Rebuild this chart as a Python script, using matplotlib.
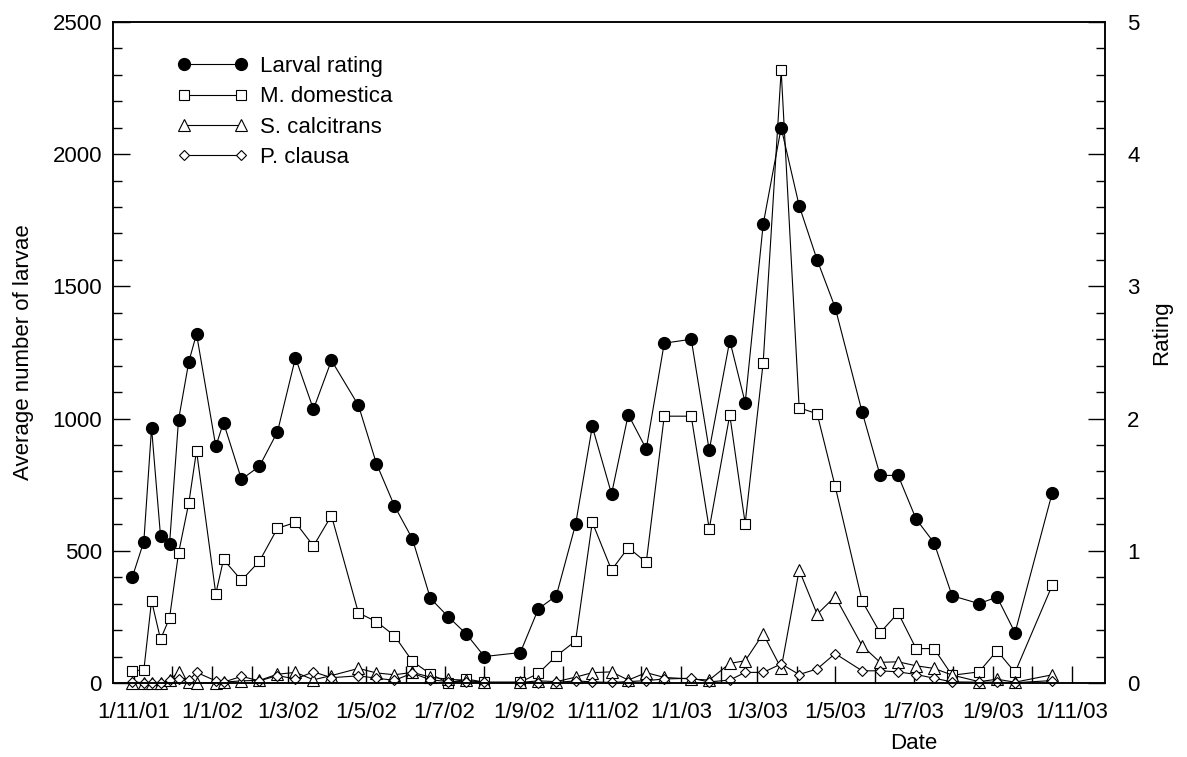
import matplotlib
matplotlib.use("Agg")
import matplotlib.pyplot as plt
import matplotlib.dates as mdates
from matplotlib.ticker import MultipleLocator, FuncFormatter
import pandas as pd

plt.rcParams['font.family'] = ['Liberation Sans', 'DejaVu Sans']

# sampling dates (d/m/y)
dates = pd.to_datetime([
    "2001-10-31", "2001-11-09", "2001-11-15", "2001-11-22", "2001-11-29",
    "2001-12-06", "2001-12-14", "2001-12-20", "2002-01-04", "2002-01-10",
    "2002-01-24", "2002-02-07", "2002-02-21", "2002-03-07", "2002-03-21",
    "2002-04-04", "2002-04-25", "2002-05-09", "2002-05-23", "2002-06-06",
    "2002-06-20", "2002-07-04", "2002-07-18", "2002-08-01", "2002-08-29",
    "2002-09-12", "2002-09-26", "2002-10-11", "2002-10-24", "2002-11-08",
    "2002-11-21", "2002-12-05", "2002-12-19", "2003-01-09", "2003-01-23",
    "2003-02-08", "2003-02-20", "2003-03-06", "2003-03-20", "2003-04-03",
    "2003-04-17", "2003-05-01", "2003-05-22", "2003-06-05", "2003-06-19",
    "2003-07-03", "2003-07-17", "2003-07-31", "2003-08-21", "2003-09-04",
    "2003-09-18", "2003-10-17",
])

rating = [0.80, 1.07, 1.93, 1.11, 1.05, 1.99, 2.43, 2.64, 1.79, 1.97,
          1.54, 1.64, 1.90, 2.46, 2.07, 2.44, 2.10, 1.66, 1.34, 1.09,
          0.64, 0.50, 0.37, 0.20, 0.23, 0.56, 0.66, 1.20, 1.94, 1.43,
          2.03, 1.77, 2.57, 2.60, 1.76, 2.59, 2.12, 3.47, 4.20, 3.61,
          3.20, 2.84, 2.05, 1.57, 1.57, 1.24, 1.06, 0.66, 0.60, 0.65,
          0.38, 1.44]

domestica = [46, 49, 311, 165, 246, 491, 681, 878, 337, 467,
             388, 461, 585, 607, 518, 633, 265, 232, 179, 82,
             34, 0, 15, 3, 3, 36, 102, 159, 608, 427,
             512, 456, 1009, 1009, 583, 1014, 603, 1212, 2317, 1041,
             1018, 744, 310, 190, 265, 130, 130, 29, 42, 122,
             40, 370]

calcitrans = [0, 0, 0, 0, 10, 42, 3, 0, 0, 3,
              8, 10, 33, 40, 12, 28, 55, 38, 31, 40,
              22, 14, 10, 2, 2, 8, 5, 22, 39, 42,
              11, 39, 21, 15, 11, 74, 84, 186, 55, 427,
              260, 327, 141, 78, 80, 65, 55, 30, 5, 14,
              3, 31]

clausa = [5, 0, 0, 0, 12, 14, 10, 40, 8, 3,
          25, 8, 28, 15, 42, 20, 27, 18, 10, 37,
          12, 5, 5, 2, 2, 0, 2, 8, 4, 2,
          5, 9, 15, 18, 4, 11, 40, 40, 72, 32,
          53, 111, 46, 46, 42, 32, 18, 4, 3, 3,
          1, 9]

fig = plt.figure(figsize=(11.87, 7.57), dpi=100)
ax = fig.add_axes([0.0952, 0.0978, 0.8357, 0.8732])
ax2 = ax.twinx()

lw = 0.8
l_dom, = ax.plot(dates, domestica, color='black', lw=lw, marker='s', ms=7.5,
                 mfc='white', mec='black', mew=0.8, clip_on=False, label='M. domestica')
l_cal, = ax.plot(dates, calcitrans, color='black', lw=lw, marker='^', ms=8,
                 mfc='white', mec='black', mew=0.8, clip_on=False, label='S. calcitrans')
l_cla, = ax.plot(dates, clausa, color='black', lw=lw, marker='D', ms=5.2,
                 mfc='white', mec='black', mew=0.8, clip_on=False, label='P. clausa')
l_rat, = ax2.plot(dates, rating, color='black', lw=lw, marker='o', ms=8.5,
                  mfc='black', mec='black', clip_on=False, label='Larval rating')

ax.set_xlim(pd.Timestamp("2001-10-16"), pd.Timestamp("2003-11-27"))
ax.set_ylim(0, 2500)
ax2.set_ylim(0, 5)

ax.xaxis.set_major_locator(mdates.MonthLocator(bymonth=[1, 3, 5, 7, 9, 11]))
ax.xaxis.set_minor_locator(mdates.MonthLocator(bymonth=[2, 4, 6, 8, 10, 12]))


def date_fmt(x, pos):
    d = mdates.num2date(x)
    return f"{d.day}/{d.month}/{d:%y}"


ax.xaxis.set_major_formatter(FuncFormatter(date_fmt))

ax.yaxis.set_major_locator(MultipleLocator(500))
ax.yaxis.set_minor_locator(MultipleLocator(100))
ax2.yaxis.set_major_locator(MultipleLocator(1))
ax2.yaxis.set_minor_locator(MultipleLocator(0.2))

fs = 16
ax.tick_params(axis='x', which='both', direction='in', length=12, width=1,
               top=False, labelsize=fs, pad=14)
ax.tick_params(axis='y', which='major', direction='in', length=12, width=1,
               right=False, labelsize=fs, pad=8)
ax.tick_params(axis='y', which='minor', direction='in', length=6.5, width=1, right=False)
ax2.tick_params(axis='y', which='major', direction='in', length=12, width=1,
                labelsize=fs, pad=16)
ax2.tick_params(axis='y', which='minor', direction='in', length=6.5, width=1)

for a in (ax, ax2):
    for s in a.spines.values():
        s.set_linewidth(1.1)

ax.set_xlabel("Date", fontsize=fs)
ax.xaxis.set_label_coords(0.8075, -0.076)
ax.set_ylabel("Average number of larvae", fontsize=fs)
ax.yaxis.set_label_coords(-0.080, 0.5)
ax2.set_ylabel("Rating", fontsize=fs)
ax2.yaxis.set_label_coords(1.047, 0.53)

ax2.legend(handles=[l_rat, l_dom, l_cal, l_cla], loc='upper left',
           bbox_to_anchor=(177 / 1187, 1 - 56 / 757), bbox_transform=fig.transFigure,
           frameon=False, fontsize=fs, numpoints=2, handlelength=3.17,
           handletextpad=0.57, labelspacing=0.42, borderpad=0, borderaxespad=0)

fig.savefig("out.png", dpi=100)
